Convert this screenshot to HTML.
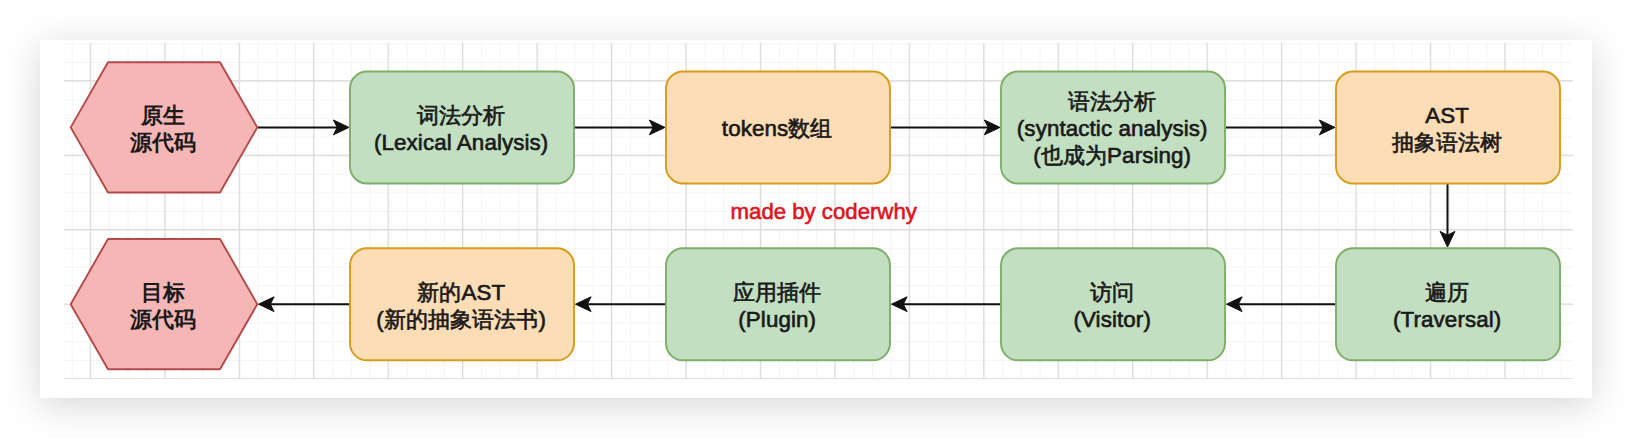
<!DOCTYPE html>
<html lang="zh">
<head>
<meta charset="utf-8">
<title>Babel compile flow</title>
<style>
  html, body { margin: 0; padding: 0; background: #ffffff; }
  body { width: 1632px; height: 438px; position: relative; overflow: hidden;
         font-family: "Liberation Sans", sans-serif; }
  .card { position: absolute; left: 40px; top: 40px; width: 1552px; height: 358px;
          background: #ffffff; box-shadow: 0 7px 36px rgba(0,0,0,0.17); }
  svg.art { position: absolute; left: 0; top: 0; }
  .lbl { position: absolute; display: flex; flex-direction: column; align-items: center;
         justify-content: center; text-align: center; white-space: nowrap;
         font-size: 22.35px; line-height: 26.8px; color: #1a1a1a; -webkit-text-stroke: 0.65px #1a1a1a; letter-spacing: 0.1px; transform: translate(-0.8px, 1.8px); }
  .lbl span { display: block; }
  .note { position: absolute; left: 730.6px; top: 197.8px; font-size: 22.2px; line-height: 27px;
          color: #e0121a; white-space: nowrap; -webkit-text-stroke: 0.6px #e0121a; }
</style>
</head>
<body>
<div class="card"></div>

<svg class="art" width="1632" height="438" viewBox="0 0 1632 438">
  <defs>
    <pattern id="minor" x="90.3" y="80.7" width="18.6125" height="18.6125" patternUnits="userSpaceOnUse">
      <path d="M0 0.5 H18.6125 M0.5 0 V18.6125" fill="none" stroke="#f4f4f4" stroke-width="1"/>
    </pattern>
    <pattern id="major" x="89.8" y="80.2" width="74.45" height="74.45" patternUnits="userSpaceOnUse">
      <path d="M0 0.6 H74.45 M0.6 0 V74.45" fill="none" stroke="#d8d8d8" stroke-width="1.1"/>
    </pattern>
    <clipPath id="gridclip"><rect x="64" y="43" width="1509" height="335.8"/></clipPath>
    <path id="ah" d="M0 0 L-15.6 -7.4 L-11.8 0 L-15.6 7.4 Z"/>
  </defs>

  <!-- grid -->
  <g clip-path="url(#gridclip)">
    <rect x="64" y="43" width="1509" height="336" fill="#ffffff"/>
    <rect x="64" y="43" width="1509" height="336" fill="url(#minor)"/>
    <rect x="64" y="43" width="1509" height="336" fill="url(#major)"/>
  </g>

  <!-- connectors -->
  <g stroke="#111111" stroke-width="2" fill="none">
    <path d="M257.5 127.4 H340"/>
    <path d="M574 127.4 H656"/>
    <path d="M890 127.4 H991"/>
    <path d="M1225 127.4 H1326"/>
    <path d="M1447.5 183.5 V238"/>
    <path d="M1336 304.2 H1235"/>
    <path d="M1001 304.2 H900"/>
    <path d="M666 304.2 H584"/>
    <path d="M350 304.2 H267"/>
  </g>
  <g fill="#111111" stroke="#111111" stroke-width="1" stroke-linejoin="miter">
    <use href="#ah" transform="translate(349 127.4)"/>
    <use href="#ah" transform="translate(665 127.4)"/>
    <use href="#ah" transform="translate(1000 127.4)"/>
    <use href="#ah" transform="translate(1335 127.4)"/>
    <use href="#ah" transform="translate(1447.5 247) rotate(90)"/>
    <use href="#ah" transform="translate(1226.5 304.2) rotate(180)"/>
    <use href="#ah" transform="translate(891.5 304.2) rotate(180)"/>
    <use href="#ah" transform="translate(575.5 304.2) rotate(180)"/>
    <use href="#ah" transform="translate(258.5 304.2) rotate(180)"/>
  </g>

  <!-- hexagons -->
  <g fill="#f5b6b5" stroke="#b34a4a" stroke-width="1.9" stroke-linejoin="round">
    <path d="M108 62.3 H220 L257.3 127.4 L220 192.5 H108 L70.7 127.4 Z"/>
    <path d="M108 239 H220 L257.3 304.2 L220 369.3 H108 L70.7 304.2 Z"/>
  </g>

  <!-- green boxes -->
  <g fill="#c2dfc1" stroke="#7fae69" stroke-width="1.9">
    <rect x="350" y="71.5" width="224" height="112" rx="17" ry="17"/>
    <rect x="1001" y="71.5" width="224" height="112" rx="17" ry="17"/>
    <rect x="666" y="248.3" width="224" height="112" rx="17" ry="17"/>
    <rect x="1001" y="248.3" width="224" height="112" rx="17" ry="17"/>
    <rect x="1336" y="248.3" width="224" height="112" rx="17" ry="17"/>
  </g>

  <!-- orange boxes -->
  <g fill="#fdddb6" stroke="#d89c1c" stroke-width="1.9">
    <rect x="666" y="71.5" width="224" height="112" rx="17" ry="17"/>
    <rect x="1336" y="71.5" width="224" height="112" rx="17" ry="17"/>
    <rect x="350" y="248.3" width="224" height="112" rx="17" ry="17"/>
  </g>
</svg>

<!-- labels: top row -->
<div class="lbl" style="left:70px;top:62px;width:187px;height:131px;font-weight:bold;-webkit-text-stroke:0;transform:translate(-0.5px,2px)"><span>原生</span><span>源代码</span></div>
<div class="lbl" style="left:350px;top:71px;width:224px;height:113px"><span>词法分析</span><span>(Lexical Analysis)</span></div>
<div class="lbl" style="left:666px;top:71px;width:224px;height:113px"><span>tokens数组</span></div>
<div class="lbl" style="left:1001px;top:71px;width:224px;height:113px"><span>语法分析</span><span>(syntactic analysis)</span><span>(也成为Parsing)</span></div>
<div class="lbl" style="left:1336px;top:71px;width:224px;height:113px"><span>AST</span><span>抽象语法树</span></div>

<div class="note">made by coderwhy</div>

<!-- labels: bottom row -->
<div class="lbl" style="left:70px;top:239px;width:187px;height:131px;font-weight:bold;-webkit-text-stroke:0;transform:translate(-0.5px,2px)"><span>目标</span><span>源代码</span></div>
<div class="lbl" style="left:350px;top:248px;width:224px;height:113px"><span>新的AST</span><span>(新的抽象语法书)</span></div>
<div class="lbl" style="left:666px;top:248px;width:224px;height:113px"><span>应用插件</span><span>(Plugin)</span></div>
<div class="lbl" style="left:1001px;top:248px;width:224px;height:113px"><span>访问</span><span>(Visitor)</span></div>
<div class="lbl" style="left:1336px;top:248px;width:224px;height:113px"><span>遍历</span><span>(Traversal)</span></div>
</body>
</html>
